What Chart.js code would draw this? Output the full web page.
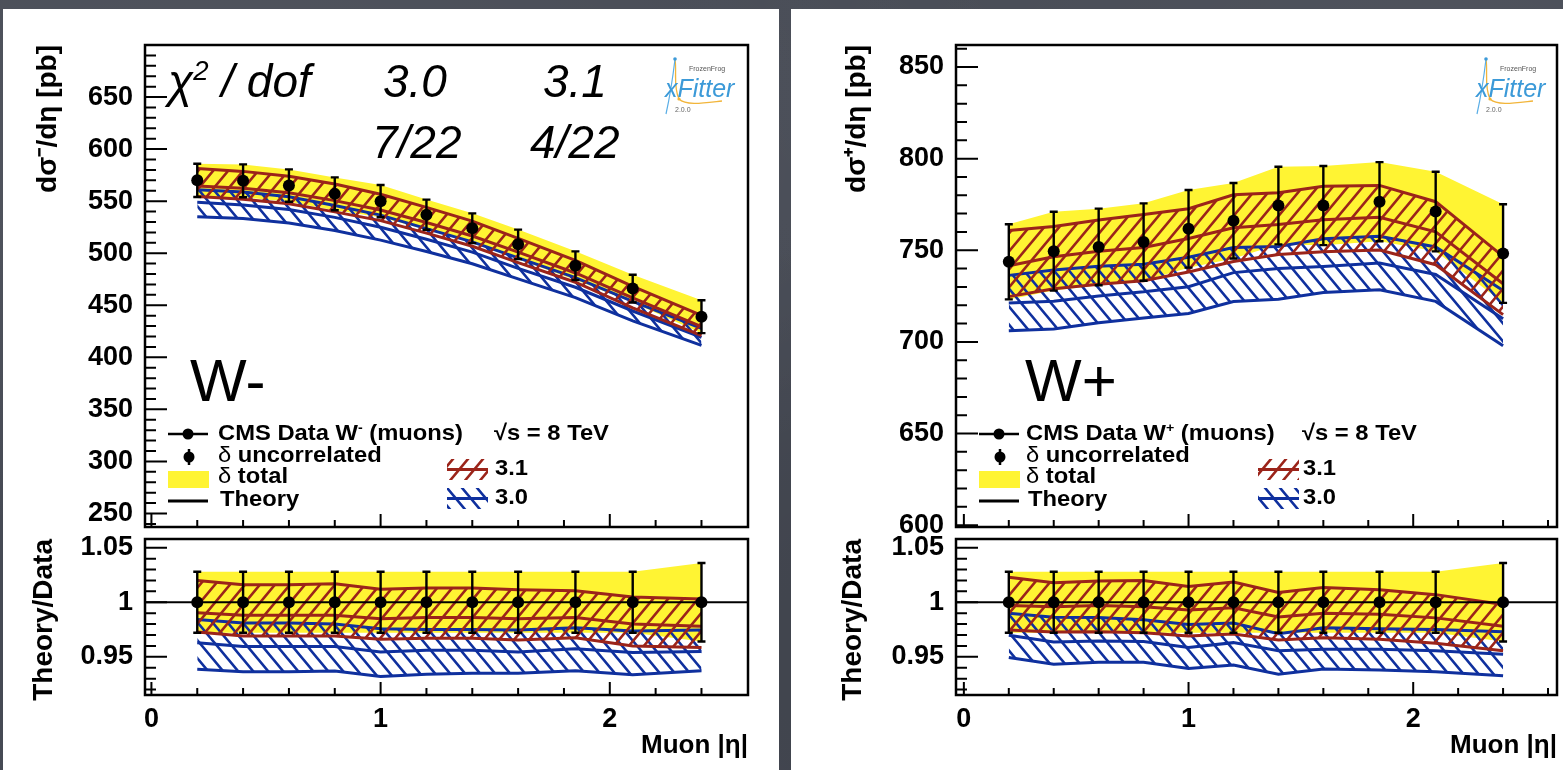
<!DOCTYPE html>
<html lang="en">
<head>
<meta charset="utf-8">
<title>W± muon pseudorapidity: CMS 8 TeV data vs xFitter 3.0 / 3.1</title>
<script src="https://cdn.jsdelivr.net/npm/chart.js@4.4.1/dist/chart.umd.min.js"></script>
<style>
  html, body { margin: 0; padding: 0; }
  body {
    width: 1563px; height: 770px; overflow: hidden; position: relative;
    background-color: #464a54;
    background-image:
      radial-gradient(ellipse at 15% 20%, rgba(255,255,255,0.07), transparent 45%),
      radial-gradient(ellipse at 70% 85%, rgba(0,0,0,0.12), transparent 50%),
      radial-gradient(ellipse at 92% 8%, rgba(255,255,255,0.05), transparent 40%);
    font-family: 'Liberation Sans', Arial, Helvetica, sans-serif;
  }
  .sheet { position: absolute; top: 9px; height: 761px; background: #fff; }
  canvas { position: absolute; }
  .txt { position: absolute; white-space: nowrap; line-height: 1; color: #000; }
  .fit { font-style: italic; font-size: 46px; }
  .big { font-size: 60px; }
  .leg { font-size: 22px; font-weight: bold; transform: scaleX(1.08); transform-origin: 0 50%; }
  .leg .g { font-weight: normal; }
  .sup { font-size: 0.6em; position: relative; top: -0.6em; }
  .logo { position: absolute; top: 56px; width: 84px; height: 62px; }
  .logo .ff { position: absolute; left: 25px; top: 9px; font-size: 7px; color: #555; }
  .logo .xf { position: absolute; left: 1px; top: 18px; font-size: 25px; font-style: italic; color: #3c9ad8; }
  .logo .ver { position: absolute; left: 11px; top: 50px; font-size: 7px; color: #666; }
  .logo svg { position: absolute; left: 0; top: 0; }
</style>
</head>
<body>
<div class="sheet" style="left:3px;width:776px"></div>
<div class="sheet" style="left:791px;width:772px"></div>

<canvas id="wmMain" width="776" height="524" style="left:3px;top:9px"></canvas>
<canvas id="wmRatio" width="776" height="237" style="left:3px;top:533px"></canvas>
<canvas id="wpMain" width="772" height="524" style="left:791px;top:9px"></canvas>
<canvas id="wpRatio" width="772" height="237" style="left:791px;top:533px"></canvas>

<!-- fit quality summary -->
<div class="txt fit" style="left:168px;top:58px">χ<span class="sup">2</span> / dof</div>
<div class="txt fit" style="left:383px;top:58px">3.0</div>
<div class="txt fit" style="left:543px;top:58px">3.1</div>
<div class="txt fit" style="left:372px;top:119px">7/22</div>
<div class="txt fit" style="left:530px;top:119px">4/22</div>

<div class="txt big" style="left:190px;top:351px">W-</div>
<div class="txt big" style="left:1025px;top:351px">W+</div>

<!-- legend text, W- panel -->
<div class="txt leg" style="left:218px;top:422px">CMS Data W<span class="sup">-</span> (muons)</div>
<div class="txt leg" style="left:494px;top:422px">√s = 8 TeV</div>
<div class="txt leg" style="left:218px;top:444px"><span class="g">δ</span> uncorrelated</div>
<div class="txt leg" style="left:218px;top:465px"><span class="g">δ</span> total</div>
<div class="txt leg" style="left:220px;top:488px">Theory</div>
<div class="txt leg" style="left:495px;top:457px">3.1</div>
<div class="txt leg" style="left:495px;top:486px">3.0</div>

<!-- legend text, W+ panel -->
<div class="txt leg" style="left:1026px;top:422px">CMS Data W<span class="sup">+</span> (muons)</div>
<div class="txt leg" style="left:1302px;top:422px">√s = 8 TeV</div>
<div class="txt leg" style="left:1026px;top:444px"><span class="g">δ</span> uncorrelated</div>
<div class="txt leg" style="left:1026px;top:465px"><span class="g">δ</span> total</div>
<div class="txt leg" style="left:1028px;top:488px">Theory</div>
<div class="txt leg" style="left:1303px;top:457px">3.1</div>
<div class="txt leg" style="left:1303px;top:486px">3.0</div>

<!-- xFitter badges -->
<div class="logo" style="left:664px">
  <svg width="84" height="62" viewBox="0 0 84 62">
    <path d="M11 3 C13 16 9 30 15 43 C22 50 40 47 58 45" fill="none" stroke="#f2b53a" stroke-width="1.3"/>
    <path d="M11 3 C9 20 6 40 2 58" fill="none" stroke="#5aaee6" stroke-width="1.2"/>
    <circle cx="11" cy="3" r="1.8" fill="#3c9ad8"/>
    <circle cx="15" cy="43" r="1.6" fill="#f2b53a"/>
  </svg>
  <div class="ff">FrozenFrog</div>
  <div class="xf">xFitter</div>
  <div class="ver">2.0.0</div>
</div>
<div class="logo" style="left:1475px">
  <svg width="84" height="62" viewBox="0 0 84 62">
    <path d="M11 3 C13 16 9 30 15 43 C22 50 40 47 58 45" fill="none" stroke="#f2b53a" stroke-width="1.3"/>
    <path d="M11 3 C9 20 6 40 2 58" fill="none" stroke="#5aaee6" stroke-width="1.2"/>
    <circle cx="11" cy="3" r="1.8" fill="#3c9ad8"/>
    <circle cx="15" cy="43" r="1.6" fill="#f2b53a"/>
  </svg>
  <div class="ff">FrozenFrog</div>
  <div class="xf">xFitter</div>
  <div class="ver">2.0.0</div>
</div>

<script>
Chart.defaults.font.family = "'Liberation Sans', Arial, Helvetica, sans-serif";
Chart.defaults.color = '#000';

const RED = '#9b241a';
const BLUE = '#0f309e';
const YELLOW = '#fff433';

// muon |eta| bin positions
const etaBins = [0.2, 0.4, 0.6, 0.8, 1.0, 1.2, 1.4, 1.6, 1.85, 2.1, 2.4];
const etaTicks = [0, 1, 2];

// ---- W- : dsigma/deta [pb]
const wmData = [570, 569.5, 565, 557, 550, 537, 524, 508.5, 488, 466, 439];
const wmErr = [16, 15.8, 15.5, 15.8, 15.5, 14.5, 14.3, 14.2, 13.8, 13.3, 15.8];
const wmFit31Up = [581.4, 578.6, 574, 566.5, 556.6, 544, 530.8, 514.3, 493.2, 468.2, 440.3];
const wmFit31Mid = [564.5, 562.5, 558, 550.5, 541.5, 529.5, 516.5, 501, 481, 457, 429.5];
const wmFit31Dn = [554.4, 551.8, 547.5, 539.7, 531.3, 519.3, 506.7, 491, 472.1, 447.4, 420.8];
const wmFit30Up = [561, 558.7, 554.3, 545.9, 536.6, 523.6, 510.9, 495.5, 476.6, 453.7, 427.8];
const wmFit30Mid = [549, 546.4, 542, 534.4, 525, 513.4, 501, 485.4, 467.3, 444.5, 419.2];
const wmFit30Dn = [535, 533.3, 529, 521.9, 512.6, 501.6, 489.9, 475.4, 457.4, 435, 411.5];

// ---- W- : theory / data
const wmRatioData = [1, 1, 1, 1, 1, 1, 1, 1, 1, 1, 1];
const wmRatioErr = [0.028, 0.028, 0.028, 0.028, 0.028, 0.028, 0.028, 0.028, 0.028, 0.028, 0.036];
const wmRatio31Up = [1.020, 1.016, 1.016, 1.017, 1.012, 1.013, 1.013, 1.0115, 1.0106, 1.0048, 1.003];
const wmRatio31Mid = [0.9905, 0.988, 0.988, 0.988, 0.985, 0.986, 0.986, 0.985, 0.986, 0.980, 0.978];
const wmRatio31Dn = [0.9727, 0.969, 0.969, 0.969, 0.966, 0.967, 0.967, 0.9655, 0.9675, 0.960, 0.9585];
const wmRatio30Up = [0.9842, 0.981, 0.981, 0.980, 0.9757, 0.975, 0.975, 0.9745, 0.9766, 0.9736, 0.9745];
const wmRatio30Mid = [0.963, 0.9594, 0.9594, 0.9594, 0.9545, 0.956, 0.956, 0.9545, 0.9575, 0.9539, 0.9548];
const wmRatio30Dn = [0.9387, 0.9364, 0.9364, 0.937, 0.932, 0.934, 0.935, 0.935, 0.9373, 0.9336, 0.9373];

// ---- W+ : dsigma/deta [pb]
const wpData = [743.7, 749.5, 751.8, 754.5, 761.7, 766.1, 774.4, 774.4, 776.5, 771.1, 748.2];
const wpErr = [20.5, 21.5, 20.9, 21.1, 21.2, 20.6, 21.2, 21.6, 21.6, 21.7, 26.9];
const wpFit31Up = [760.8, 763, 766.5, 769.5, 772.7, 780.3, 781.4, 784.9, 785.4, 776.5, 746.7];
const wpFit31Mid = [741.5, 746.5, 749.5, 751.5, 756.4, 762.3, 764, 766.7, 768, 760.1, 731.7];
const wpFit31Dn = [724.7, 729, 731.5, 733.4, 738.1, 743.9, 747.7, 749.2, 750.1, 742.1, 714.9];
const wpFit30Up = [736.3, 739.2, 741.3, 742.4, 746.2, 751.5, 752.1, 756.3, 757.6, 751.8, 728];
const wpFit30Mid = [721.2, 722.2, 725.1, 727.3, 730.1, 737.8, 740, 741.1, 743.1, 736.8, 712.6];
const wpFit30Dn = [706.1, 707, 710.4, 713, 715.5, 722, 723.3, 727, 728.4, 722.1, 697.9];

// ---- W+ : theory / data
const wpRatioData = [1, 1, 1, 1, 1, 1, 1, 1, 1, 1, 1];
const wpRatioErr = [0.028, 0.028, 0.028, 0.028, 0.028, 0.028, 0.028, 0.028, 0.028, 0.028, 0.036];
const wpRatio31Up = [1.023, 1.018, 1.0196, 1.0199, 1.0145, 1.0185, 1.009, 1.0136, 1.0115, 1.007, 0.998];
const wpRatio31Mid = [0.997, 0.996, 0.997, 0.996, 0.993, 0.995, 0.9866, 0.990, 0.989, 0.9857, 0.978];
const wpRatio31Dn = [0.9745, 0.9727, 0.973, 0.972, 0.969, 0.971, 0.9655, 0.9675, 0.966, 0.9624, 0.9555];
const wpRatio30Up = [0.990, 0.9863, 0.986, 0.984, 0.9797, 0.981, 0.9712, 0.9766, 0.9757, 0.975, 0.973];
const wpRatio30Mid = [0.9697, 0.9636, 0.9645, 0.964, 0.9585, 0.963, 0.9555, 0.957, 0.957, 0.9555, 0.9524];
const wpRatio30Dn = [0.9494, 0.9433, 0.945, 0.945, 0.9394, 0.9424, 0.934, 0.9388, 0.938, 0.9364, 0.9327];

// axis tick labels
const wmYTicks = [250, 300, 350, 400, 450, 500, 550, 600, 650];
const wpYTicks = [600, 650, 700, 750, 800, 850];
const ratioYTicks = [0.95, 1, 1.05];
const unityLine = [-0.1, 2.7];

// single-direction hatch pattern; dir > 0 gives "/", dir < 0 gives "\"
function hatch(color, dir) {
  const w = 15, h = 18;
  const c = document.createElement('canvas');
  c.width = w; c.height = h;
  const g = c.getContext('2d');
  g.strokeStyle = color;
  g.lineWidth = 2.6;
  g.beginPath();
  for (let k = -1; k <= 1; k++) {
    for (let m = -1; m <= 1; m++) {
      const ox = k * w, oy = m * h;
      if (dir > 0) { g.moveTo(ox, oy + h); g.lineTo(ox + w, oy); }
      else { g.moveTo(ox, oy); g.lineTo(ox + w, oy + h); }
    }
  }
  g.stroke();
  return g.createPattern(c, 'repeat');
}

const series = vals => etaBins.map((x, i) => ({ x, y: vals[i] }));

function totalBand(vals, err) {
  return [
    { data: series(vals.map((v, i) => v + err[i])), borderWidth: 0, borderColor: YELLOW,
      backgroundColor: YELLOW, fill: '+1', order: 20 },
    { data: series(vals.map((v, i) => v - err[i])), borderWidth: 0, borderColor: YELLOW,
      fill: false, order: 20 }
  ];
}

function fitBand(up, mid, dn, color, pattern, order) {
  return [
    { data: series(up), borderColor: color, borderWidth: 3, backgroundColor: pattern, fill: '+2', order: order + 0.5 },
    { data: series(mid), borderColor: color, borderWidth: 3, fill: false, order },
    { data: series(dn), borderColor: color, borderWidth: 3, fill: false, order }
  ];
}

function measured(vals, err) {
  return { data: series(vals), errors: err, showLine: false, pointRadius: 6,
           pointBackgroundColor: '#000', pointBorderColor: '#000', pointBorderWidth: 0, order: 1 };
}

// frame, inward ROOT-style ticks, error bars and optional legend keys
function decor(cfg) {
  return {
    id: 'decor',
    beforeDatasetDraw(chart, args) {
      const ds = chart.data.datasets[args.index];
      if (!ds.errors) return;
      const { ctx } = chart;
      const xs = chart.scales.x, ys = chart.scales.y;
      ctx.save();
      ctx.strokeStyle = '#000';
      ctx.lineWidth = 2.4;
      ctx.beginPath();
      ds.data.forEach((p, i) => {
        const px = xs.getPixelForValue(p.x);
        const hi = ys.getPixelForValue(p.y + ds.errors[i]);
        const lo = ys.getPixelForValue(p.y - ds.errors[i]);
        ctx.moveTo(px, lo); ctx.lineTo(px, hi);
        ctx.moveTo(px - 4, lo); ctx.lineTo(px + 4, lo);
        ctx.moveTo(px - 4, hi); ctx.lineTo(px + 4, hi);
      });
      ctx.stroke();
      ctx.restore();
    },
    afterDraw(chart) {
      const { ctx, chartArea: a } = chart;
      const xs = chart.scales.x, ys = chart.scales.y;
      ctx.save();
      ctx.strokeStyle = '#000';
      ctx.lineWidth = 2;
      ctx.beginPath();
      const n = Math.round((cfg.yMinorEnd - cfg.yMinorStart) / cfg.yMinor);
      for (let i = 0; i <= n; i++) {
        const py = ys.getPixelForValue(cfg.yMinorStart + i * cfg.yMinor);
        if (py < a.top + 1 || py > a.bottom - 1) continue;
        ctx.moveTo(a.left, py); ctx.lineTo(a.left + 11, py);
      }
      ys.ticks.forEach(t => {
        const py = ys.getPixelForValue(t.value);
        if (py < a.top + 1 || py > a.bottom - 1) return;
        ctx.moveTo(a.left, py); ctx.lineTo(a.left + 22, py);
      });
      for (let i = 0; i <= 13; i++) {
        const v = i * 0.2;
        const px = xs.getPixelForValue(v);
        if (px < a.left + 1 || px > a.right - 1) continue;
        const len = (i % 5 === 0) ? 13 : 7;
        ctx.moveTo(px, a.bottom); ctx.lineTo(px, a.bottom - len);
      }
      ctx.stroke();
      ctx.lineWidth = 2.5;
      ctx.strokeRect(a.left, a.top, a.width, a.height);
      if (cfg.legend) cfg.legend(ctx, a);
      ctx.restore();
    }
  };
}

function legendKeys(redPat, bluePat) {
  return (ctx, a) => {
    const x0 = a.left, y0 = a.top;
    ctx.strokeStyle = '#000';
    ctx.fillStyle = '#000';
    ctx.lineWidth = 2.5;
    // data marker with error line
    ctx.beginPath(); ctx.moveTo(x0 + 23, y0 + 389); ctx.lineTo(x0 + 63, y0 + 389); ctx.stroke();
    ctx.beginPath(); ctx.arc(x0 + 43, y0 + 389, 5.5, 0, Math.PI * 2); ctx.fill();
    // uncorrelated marker
    ctx.beginPath(); ctx.moveTo(x0 + 44, y0 + 404); ctx.lineTo(x0 + 44, y0 + 420); ctx.stroke();
    ctx.beginPath(); ctx.arc(x0 + 44, y0 + 412, 5.5, 0, Math.PI * 2); ctx.fill();
    // total uncertainty box
    ctx.fillStyle = YELLOW;
    ctx.fillRect(x0 + 23, y0 + 426, 41, 17);
    // theory line
    ctx.lineWidth = 3;
    ctx.beginPath(); ctx.moveTo(x0 + 23, y0 + 456); ctx.lineTo(x0 + 63, y0 + 456); ctx.stroke();
    // fit version keys
    const key = (top, pat, color) => {
      ctx.save();
      ctx.beginPath(); ctx.rect(x0 + 302, y0 + top, 41, 21); ctx.clip();
      ctx.fillStyle = pat; ctx.fillRect(x0 + 302, y0 + top, 41, 21);
      ctx.restore();
      ctx.strokeStyle = color; ctx.lineWidth = 3;
      ctx.beginPath(); ctx.moveTo(x0 + 302, y0 + top + 10.5); ctx.lineTo(x0 + 343, y0 + top + 10.5); ctx.stroke();
    };
    key(414, redPat, RED);
    key(443, bluePat, BLUE);
  };
}

function yAxis(min, max, ticks, width, title, titlePad) {
  return {
    type: 'linear', min, max, position: 'left',
    grid: { display: false }, border: { display: false },
    afterBuildTicks: s => { s.ticks = ticks.map(v => ({ value: v })); },
    ticks: { font: { size: 27, weight: 'bold' }, padding: 4, color: '#000', autoSkip: false,
             callback: v => String(Number(v.toFixed(2))) },
    title: { display: true, text: title, align: 'end', color: '#000',
             font: { size: 28, weight: 'bold' }, padding: { top: titlePad, bottom: 0 } },
    afterFit: s => { s.width = width; s.paddingTop = 0; s.paddingBottom = 0; }
  };
}

function xAxis(min, max, withLabels, height) {
  return {
    type: 'linear', min, max, position: 'bottom',
    grid: { display: false }, border: { display: false },
    afterBuildTicks: s => { s.ticks = etaTicks.map(v => ({ value: v })); },
    ticks: { display: withLabels, font: { size: 27, weight: 'bold' }, padding: 0, color: '#000',
             maxRotation: 0, autoSkip: false, callback: v => String(v) },
    title: { display: withLabels, text: 'Muon |η|', align: 'end', color: '#000',
             font: { size: 26, weight: 'bold' }, padding: { top: 0, bottom: 9 } },
    afterFit: s => { s.height = height; s.paddingLeft = 0; s.paddingRight = 0; }
  };
}

function build(id, datasets, x, y, padding, deco) {
  return new Chart(document.getElementById(id), {
    type: 'line',
    data: { datasets },
    options: {
      responsive: false, animation: false, devicePixelRatio: 1,
      layout: { padding },
      elements: { point: { radius: 0 }, line: { tension: 0 } },
      plugins: { legend: { display: false }, tooltip: { enabled: false } },
      scales: { x, y }
    },
    plugins: [deco]
  });
}

const redHatch = hatch(RED, 1);
const blueHatch = hatch(BLUE, -1);

function unity(xr) {
  return { data: xr.map(x => ({ x, y: 1 })), borderColor: '#000', borderWidth: 2, fill: false, order: 4 };
}

// W- cross section
build('wmMain',
  [...totalBand(wmData, wmErr),
   ...fitBand(wmFit30Up, wmFit30Mid, wmFit30Dn, BLUE, blueHatch, 8),
   ...fitBand(wmFit31Up, wmFit31Mid, wmFit31Dn, RED, redHatch, 6),
   measured(wmData, wmErr)],
  xAxis(-0.028, 2.603, false, 0),
  yAxis(237, 700, wmYTicks, 142, 'dσ⁻/dη [pb]', 28),
  { left: 0, top: 36, right: 31, bottom: 2 },
  decor({ yMinorStart: 240, yMinorEnd: 700, yMinor: 10, legend: legendKeys(redHatch, blueHatch) }));

// W- theory/data
build('wmRatio',
  [...totalBand(wmRatioData, wmRatioErr),
   ...fitBand(wmRatio30Up, wmRatio30Mid, wmRatio30Dn, BLUE, blueHatch, 8),
   ...fitBand(wmRatio31Up, wmRatio31Mid, wmRatio31Dn, RED, redHatch, 6),
   unity(unityLine),
   measured(wmRatioData, wmRatioErr)],
  xAxis(-0.028, 2.603, true, 75),
  yAxis(0.915, 1.058, ratioYTicks, 142, 'Theory/Data', 24),
  { left: 0, top: 2, right: 31, bottom: 0 },
  decor({ yMinorStart: 0.92, yMinorEnd: 1.05, yMinor: 0.01 }));

// W+ cross section
build('wpMain',
  [...totalBand(wpData, wpErr),
   ...fitBand(wpFit30Up, wpFit30Mid, wpFit30Dn, BLUE, blueHatch, 8),
   ...fitBand(wpFit31Up, wpFit31Mid, wpFit31Dn, RED, redHatch, 6),
   measured(wpData, wpErr)],
  xAxis(-0.035, 2.64, false, 0),
  yAxis(599, 862, wpYTicks, 165, 'dσ⁺/dη [pb]', 49),
  { left: 0, top: 36, right: 4, bottom: 2 },
  decor({ yMinorStart: 600, yMinorEnd: 860, yMinor: 10, legend: legendKeys(redHatch, blueHatch) }));

// W+ theory/data
build('wpRatio',
  [...totalBand(wpRatioData, wpRatioErr),
   ...fitBand(wpRatio30Up, wpRatio30Mid, wpRatio30Dn, BLUE, blueHatch, 8),
   ...fitBand(wpRatio31Up, wpRatio31Mid, wpRatio31Dn, RED, redHatch, 6),
   unity(unityLine),
   measured(wpRatioData, wpRatioErr)],
  xAxis(-0.035, 2.64, true, 75),
  yAxis(0.915, 1.058, ratioYTicks, 165, 'Theory/Data', 45),
  { left: 0, top: 2, right: 4, bottom: 0 },
  decor({ yMinorStart: 0.92, yMinorEnd: 1.05, yMinor: 0.01 }));
</script>
</body>
</html>
